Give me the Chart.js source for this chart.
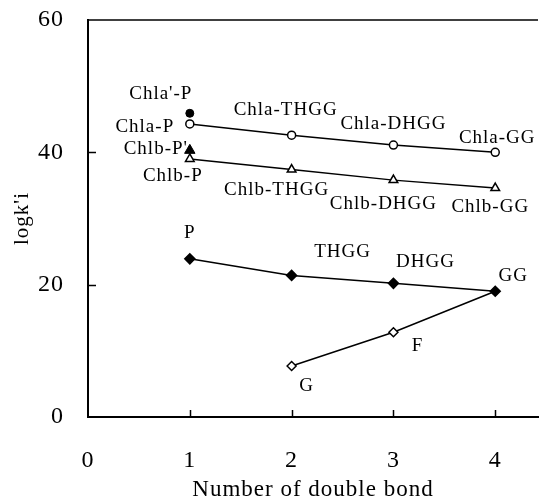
<!DOCTYPE html>
<html>
<head>
<meta charset="utf-8">
<script src="https://cdn.jsdelivr.net/npm/chart.js@4.4.0/dist/chart.umd.min.js"></script>
<style>
  html, body { margin: 0; padding: 0; background: #fff; }
  #wrap { width: 545px; height: 504px; }
</style>
</head>
<body>
<div id="wrap"><canvas id="chart" width="545" height="504"></canvas></div>
<script>
// x: number of double bonds
const bonds = [1, 2, 3, 4];
const chlaValues = [44.3, 42.6, 41.1, 40.0];
const chlbValues = [39.0, 37.4, 35.8, 34.6];
const lipidValues = [23.9, 21.4, 20.2, 19.0];
// G -> F -> GG
const hydroBonds = [2, 3, 4];
const hydroValues = [7.7, 12.8, 19.0];
// primed isomers at one double bond
const primeBonds = [1, 1];
const primeValues = [45.9, 40.3];

const chlaNames = ['Chla-P', 'Chla-THGG', 'Chla-DHGG', 'Chla-GG'];
const chlbNames = ['Chlb-P', 'Chlb-THGG', 'Chlb-DHGG', 'Chlb-GG'];
const lipidNames = ['P', 'THGG', 'DHGG', 'GG'];
const hydroNames = ['G', 'F'];
const primeNames = ["Chla'-P", "Chlb-P'"];

const xTicks = [0, 1, 2, 3, 4];
const yTicks = [0, 20, 40, 60];

const FONT = '"Liberation Serif", "Times New Roman", serif';

// text offset from its point, px
const labelShift = {
  "Chla'-P": [-29, -19], 'Chla-P': [-45, 3], 'Chla-THGG': [-6, -25],
  'Chla-DHGG': [0, -21], 'Chla-GG': [2, -14],
  "Chlb-P'": [-34, -1], 'Chlb-P': [-17, 17], 'Chlb-THGG': [-15, 20],
  'Chlb-DHGG': [-10, 24], 'Chlb-GG': [-5, 19],
  'P': [0, -26], 'THGG': [51, -23], 'DHGG': [32, -21], 'GG': [18, -15],
  'F': [24, 14], 'G': [15, 20],
};

const pts = (xs, ys) => xs.map((x, i) => ({ x, y: ys[i] }));
const named = (names, xs, ys) => names.map((text, i) => ({ text, x: xs[i], y: ys[i] }));

const pointLabels = [
  ...named(chlaNames, bonds, chlaValues),
  ...named(chlbNames, bonds, chlbValues),
  ...named(lipidNames, bonds, lipidValues),
  ...named(hydroNames, hydroBonds, hydroValues),
  ...named(primeNames, primeBonds, primeValues),
];

const lineDs = (data, style, radius, fill) => ({
  data, showLine: true, tension: 0,
  borderColor: '#000', borderWidth: 1.5,
  pointStyle: style, pointRadius: radius,
  pointBackgroundColor: fill, pointBorderColor: '#000', pointBorderWidth: 1.5,
});

const decor = {
  id: 'decor',
  beforeDraw(chart) {
    chart.ctx.letterSpacing = '1px';
  },
  afterDraw(chart) {
    const { ctx, chartArea: a, scales: { x, y } } = chart;
    ctx.save();
    ctx.strokeStyle = '#000';
    // top frame line
    ctx.lineWidth = 1.5;
    ctx.beginPath();
    ctx.moveTo(a.left, a.top);
    ctx.lineTo(a.right, a.top);
    ctx.stroke();
    // inward tick marks
    ctx.beginPath();
    for (const v of yTicks.slice(1, -1)) {
      const py = Math.round(y.getPixelForValue(v)) + 0.5;
      ctx.moveTo(a.left, py);
      ctx.lineTo(a.left + 8, py);
    }
    for (const v of xTicks.slice(1)) {
      const px = Math.round(x.getPixelForValue(v)) + 0.5;
      ctx.moveTo(px, a.bottom);
      ctx.lineTo(px, a.bottom - 7);
    }
    ctx.stroke();
    // point names
    ctx.fillStyle = '#000';
    ctx.font = '19px ' + FONT;
    ctx.textAlign = 'center';
    ctx.textBaseline = 'middle';
    for (const l of pointLabels) {
      const [dx, dy] = labelShift[l.text] || [0, 0];
      ctx.fillText(l.text, x.getPixelForValue(l.x) + dx, y.getPixelForValue(l.y) + dy);
    }
    ctx.restore();
  },
};

new Chart(document.getElementById('chart'), {
  type: 'scatter',
  data: {
    datasets: [
      lineDs(pts(bonds, chlaValues), 'circle', 4, '#fff'),
      lineDs(pts(bonds, chlbValues), 'triangle', 5, '#fff'),
      lineDs(pts(bonds, lipidValues), 'rectRot', 5, '#000'),
      lineDs(pts(hydroBonds, hydroValues), 'rectRot', [4.5, 4.5, 0], '#fff'),
      { data: pts(primeBonds, primeValues), showLine: false,
        pointStyle: ['circle', 'triangle'], pointRadius: [4, 6],
        pointBackgroundColor: '#000', pointBorderColor: '#000', pointBorderWidth: 1 },
    ],
  },
  options: {
    responsive: false,
    animation: false,
    events: [],
    layout: { padding: { top: 20, right: 0, bottom: 0, left: 0 } },
    plugins: { legend: { display: false }, tooltip: { enabled: false } },
    scales: {
      x: {
        type: 'linear', min: 0, max: 4.42,
        afterBuildTicks: s => { s.ticks = xTicks.map(value => ({ value })); },
        afterFit: s => { s.height = 87; },
        // tickLength only spaces the labels; grid itself is hidden
        grid: { display: false, drawTicks: true, tickLength: 29 },
        border: { display: true, color: '#000', width: 2 },
        ticks: { color: '#000', padding: 0, font: { family: FONT, size: 24 }, callback: v => String(v) },
        title: { display: true, text: 'Number of double bond', color: '#000',
                 font: { family: FONT, size: 23 }, padding: { top: 0, bottom: 0 } },
      },
      y: {
        type: 'linear', min: 0, max: 60,
        afterBuildTicks: s => { s.ticks = yTicks.map(value => ({ value })); },
        afterFit: s => { s.width = 88; },
        grid: { display: false, drawTicks: true, tickLength: 24 },
        border: { display: true, color: '#000', width: 2 },
        ticks: { color: '#000', padding: 0, font: { family: FONT, size: 24 }, callback: v => String(v) },
        title: { display: true, text: "logk'i", color: '#000',
                 font: { family: FONT, size: 21 }, padding: { top: 10, bottom: 0 } },
      },
    },
  },
  plugins: [decor],
});
</script>
</body>
</html>
